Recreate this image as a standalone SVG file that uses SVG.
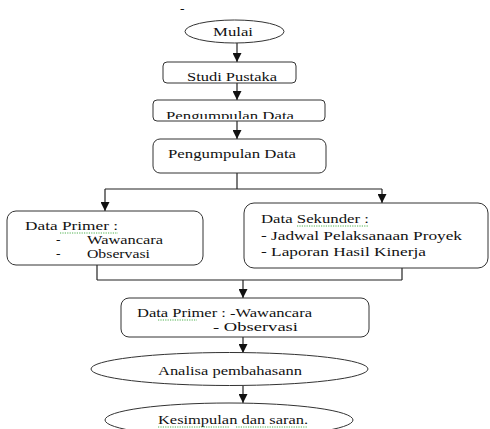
<svg xmlns="http://www.w3.org/2000/svg" width="490" height="429" viewBox="0 0 490 429">
  <style>
    text { font-family: "Liberation Serif", "Times New Roman", serif; font-size: 13.5px; fill: #111; }
    .tight { font-size: 11.5px; }
    .node { fill: #fff; stroke: #333; stroke-width: 1; }
    .wire { fill: none; stroke: #222; stroke-width: 1.2; }
    .squig { fill: none; stroke: #3aa83a; stroke-width: 0.9; stroke-dasharray: 1.2 1.2; }
  </style>
  <defs>
    <marker id="arrow" markerUnits="userSpaceOnUse" markerWidth="10" markerHeight="9" refX="9" refY="4.5" orient="auto">
      <path d="M0,0 L9,4.5 L0,9 z" fill="#111"/>
    </marker>
    <clipPath id="clipStudi"><rect x="160" y="60" width="140" height="21"/></clipPath>
    <clipPath id="clipKumpul1"><rect x="150" y="98" width="180" height="21"/></clipPath>
    <clipPath id="clipPrimer"><rect x="5" y="209" width="200" height="49"/></clipPath>
  </defs>

  <rect width="490" height="429" fill="#fff"/>

  <text x="180" y="13">-</text>

  <!-- connectors -->
  <g id="connectors">
    <line class="wire" x1="237" y1="43" x2="237" y2="62" marker-end="url(#arrow)"/>
    <line class="wire" x1="237" y1="83" x2="237" y2="100" marker-end="url(#arrow)"/>
    <line class="wire" x1="237" y1="121" x2="237" y2="139" marker-end="url(#arrow)"/>
    <line class="wire" x1="237" y1="173" x2="237" y2="189"/>
    <line class="wire" x1="105" y1="189" x2="382" y2="189"/>
    <line class="wire" x1="105" y1="189" x2="105" y2="211" marker-end="url(#arrow)"/>
    <line class="wire" x1="382" y1="189" x2="382" y2="203" marker-end="url(#arrow)"/>
    <line class="wire" x1="97" y1="265" x2="97" y2="280"/>
    <line class="wire" x1="402" y1="268" x2="402" y2="280"/>
    <line class="wire" x1="97" y1="280" x2="402" y2="280"/>
    <line class="wire" x1="243" y1="280" x2="243" y2="298" marker-end="url(#arrow)"/>
    <line class="wire" x1="243" y1="337" x2="243" y2="353" marker-end="url(#arrow)"/>
    <line class="wire" x1="243" y1="385" x2="243" y2="403" marker-end="url(#arrow)"/>
  </g>

  <g id="mulai">
    <ellipse class="node" cx="234.5" cy="31.5" rx="49.5" ry="11.5"/>
    <text x="213" y="36" textLength="40" lengthAdjust="spacingAndGlyphs">Mulai</text>
  </g>

  <g id="studi-pustaka">
    <rect class="node" x="163" y="62" width="133" height="21" rx="4"/>
    <text x="187" y="81" textLength="90" lengthAdjust="spacingAndGlyphs" clip-path="url(#clipStudi)">Studi Pustaka</text>
  </g>

  <g id="pengumpulan-data-1">
    <rect class="node" x="153" y="100" width="172" height="21" rx="4"/>
    <text x="166" y="120" textLength="128" lengthAdjust="spacingAndGlyphs" clip-path="url(#clipKumpul1)">Pengumpulan Data</text>
  </g>

  <g id="pengumpulan-data-2">
    <rect class="node" x="153" y="139" width="173" height="34" rx="7"/>
    <text x="168" y="158" textLength="128" lengthAdjust="spacingAndGlyphs">Pengumpulan Data</text>
  </g>

  <g id="data-primer">
    <rect class="node" x="7" y="211" width="196" height="54" rx="9"/>
    <text x="25" y="230" textLength="93" lengthAdjust="spacingAndGlyphs">Data Primer :</text>
    <path class="squig" d="M60,233 L118,233"/>
    <text x="56" y="244">-</text>
    <text x="87" y="244" textLength="76" lengthAdjust="spacingAndGlyphs">Wawancara</text>
    <g clip-path="url(#clipPrimer)">
      <text x="56" y="258">-</text>
      <text x="87" y="258" textLength="63" lengthAdjust="spacingAndGlyphs">Observasi</text>
    </g>
  </g>

  <g id="data-sekunder">
    <rect class="node" x="244" y="203" width="244" height="65" rx="10"/>
    <text x="261" y="223" textLength="108" lengthAdjust="spacingAndGlyphs">Data Sekunder :</text>
    <path class="squig" d="M297,226 L369,226"/>
    <text x="261" y="240" textLength="201" lengthAdjust="spacingAndGlyphs">- Jadwal Pelaksanaan Proyek</text>
    <text x="261" y="256" textLength="165" lengthAdjust="spacingAndGlyphs">- Laporan Hasil Kinerja</text>
  </g>

  <g id="data-primer-ringkas">
    <rect class="node" x="121" y="298" width="248" height="39" rx="8"/>
    <text class="tight" x="137" y="317" textLength="175" lengthAdjust="spacingAndGlyphs">Data Primer : -Wawancara</text>
    <path class="squig" d="M158,320 L197,320"/>
    <text class="tight" x="213" y="331" textLength="85" lengthAdjust="spacingAndGlyphs">- Observasi</text>
  </g>

  <g id="analisa">
    <ellipse class="node" cx="229.5" cy="369" rx="138.5" ry="16.5"/>
    <text x="158" y="375" textLength="144" lengthAdjust="spacingAndGlyphs">Analisa pembahasann</text>
  </g>

  <g id="kesimpulan">
    <ellipse class="node" cx="229" cy="420" rx="124" ry="17"/>
    <text x="158" y="424" textLength="150" lengthAdjust="spacingAndGlyphs">Kesimpulan dan saran.</text>
    <path class="squig" d="M158,427 L230,427 M236,427 L308,427"/>
  </g>
</svg>
